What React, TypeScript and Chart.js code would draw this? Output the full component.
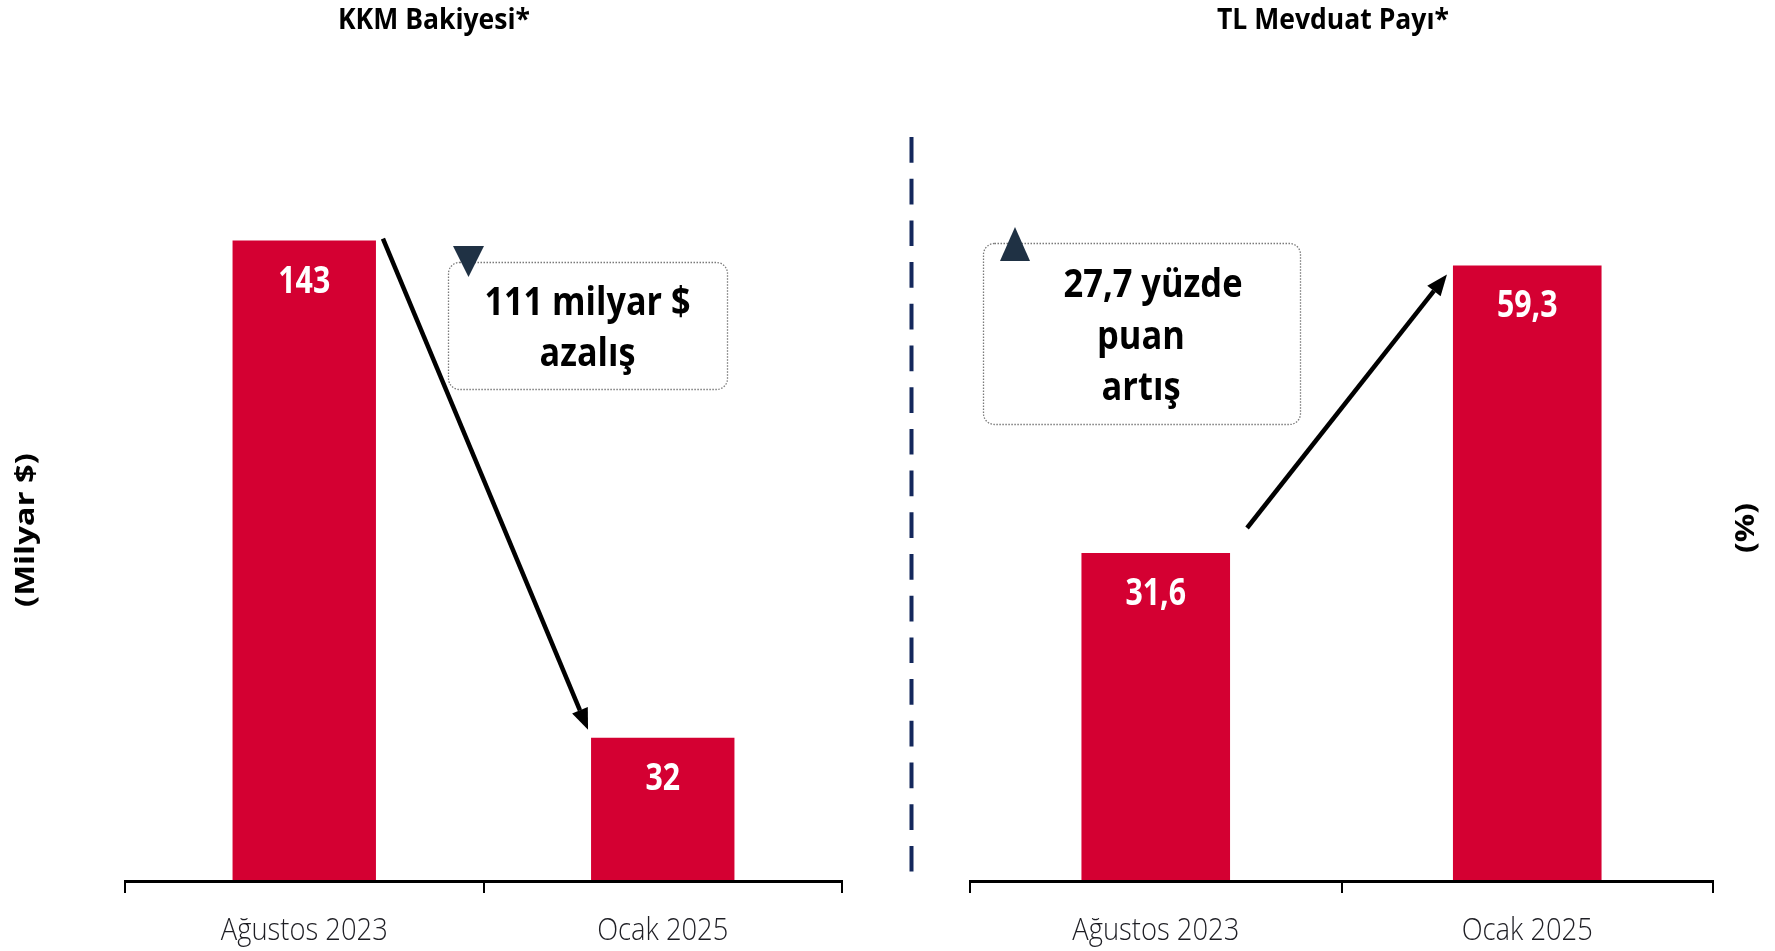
import React, { useEffect, useRef } from "react";
import { Chart, registerables } from "chart.js";

Chart.register(...registerables);

// ---- data ----
const categories = ["Ağustos 2023", "Ocak 2025"];
const kkmValues = [143, 32];
const kkmValueLabels = ["143", "32"];
const tlShareValues = [31.6, 59.3];
const tlShareValueLabels = ["31,6", "59,3"];
const leftTitle = "KKM Bakiyesi*";
const rightTitle = "TL Mevduat Payı*";
const leftAxisTitle = "(Milyar $)";
const rightAxisTitle = "(%)";
const leftNote = ["111 milyar $", "azalış"];
const rightNote = ["27,7 yüzde", "puan", "artış"];

const FAMILY = "'Open Sans', 'Noto Sans', 'DejaVu Sans', sans-serif";
const BAR_RED = "#D40032";
const NAVY = "#1f3144";

function measure(ctx: CanvasRenderingContext2D, font: string, text: string) {
  ctx.save();
  ctx.font = font;
  const w = ctx.measureText(text).width;
  ctx.restore();
  return w;
}

function drawText(
  ctx: CanvasRenderingContext2D,
  text: string,
  x: number,
  y: number,
  font: string,
  color: string,
  sx: number,
  rotate = 0
) {
  ctx.save();
  ctx.font = font;
  ctx.fillStyle = color;
  ctx.textAlign = "center";
  ctx.textBaseline = "alphabetic";
  ctx.translate(x, y);
  if (rotate) ctx.rotate(rotate);
  ctx.scale(sx, 1);
  ctx.fillText(text, 0, 0);
  ctx.restore();
}

function drawArrow(ctx: CanvasRenderingContext2D, x1: number, y1: number, x2: number, y2: number) {
  const ang = Math.atan2(y2 - y1, x2 - x1);
  const hl = 21;
  const hw = 8.5;
  const bx = x2 - hl * Math.cos(ang);
  const by = y2 - hl * Math.sin(ang);
  ctx.save();
  ctx.strokeStyle = "#000";
  ctx.lineWidth = 4.5;
  ctx.beginPath();
  ctx.moveTo(x1, y1);
  ctx.lineTo(bx, by);
  ctx.stroke();
  ctx.fillStyle = "#000";
  ctx.beginPath();
  ctx.moveTo(x2, y2);
  ctx.lineTo(bx + hw * Math.sin(ang), by - hw * Math.cos(ang));
  ctx.lineTo(bx - hw * Math.sin(ang), by + hw * Math.cos(ang));
  ctx.closePath();
  ctx.fill();
  ctx.restore();
}

function dottedBox(ctx: CanvasRenderingContext2D, x1: number, y1: number, x2: number, y2: number) {
  ctx.save();
  ctx.strokeStyle = "#7a7a7a";
  ctx.lineWidth = 1.3;
  ctx.setLineDash([1.5, 1.5]);
  ctx.beginPath();
  (ctx as any).roundRect(x1 + 0.5, y1 + 0.5, x2 - x1, y2 - y1, 11);
  ctx.stroke();
  ctx.restore();
}

function triangle(ctx: CanvasRenderingContext2D, cx: number, yBase: number, yTip: number, halfW: number) {
  ctx.save();
  ctx.fillStyle = NAVY;
  ctx.beginPath();
  ctx.moveTo(cx - halfW, yBase);
  ctx.lineTo(cx + halfW, yBase);
  ctx.lineTo(cx, yTip);
  ctx.closePath();
  ctx.fill();
  ctx.restore();
}

const titleFont = `bold 28px ${FAMILY}`;
const catFont = `300 31px ${FAMILY}`;
const valFont = `bold 38px ${FAMILY}`;
const noteFont = `bold 40px ${FAMILY}`;
const axisTitleFont = `bold 27px ${FAMILY}`;

function commonDraw(chart: any, ctx: CanvasRenderingContext2D, labels: string[]) {
  const xScale = chart.scales.x;
  const sCat = 167 / measure(ctx, catFont, "Ağustos 2023");
  categories.forEach((c, i) => {
    drawText(ctx, c, xScale.getPixelForValue(i), 940, catFont, "#1e1e24", sCat);
  });
  const meta = chart.getDatasetMeta(0);
  const sVal = 52 / measure(ctx, valFont, "143");
  meta.data.forEach((bar: any, i: number) => {
    drawText(ctx, labels[i], bar.x, bar.y + 52, valFont, "#ffffff", sVal);
  });
}

const leftPlugin = {
  id: "leftDecor",
  afterDatasetsDraw(chart: any) {
    const ctx: CanvasRenderingContext2D = chart.ctx;
    commonDraw(chart, ctx, kkmValueLabels);
    drawText(ctx, leftTitle, 434, 29, titleFont, "#000", 192 / measure(ctx, titleFont, leftTitle));
    drawText(ctx, leftAxisTitle, 34, 530, axisTitleFont, "#000", 154 / measure(ctx, axisTitleFont, leftAxisTitle), -Math.PI / 2);
    const meta = chart.getDatasetMeta(0);
    const b1 = meta.data[0];
    const b2 = meta.data[1];
    drawArrow(ctx, b1.x + b1.width / 2 + 7, b1.y - 2, b2.x - b2.width / 2 - 3, b2.y - 8);
    dottedBox(ctx, 448, 262, 727, 389);
    triangle(ctx, 468.5, 246, 277, 15.5);
    const sNote = 206 / measure(ctx, noteFont, leftNote[0]);
    drawText(ctx, leftNote[0], 587.5, 315, noteFont, "#000", sNote);
    drawText(ctx, leftNote[1], 587.5, 366, noteFont, "#000", sNote);
  },
};

const OFF = 900;
const rightPlugin = {
  id: "rightDecor",
  afterDatasetsDraw(chart: any) {
    const ctx: CanvasRenderingContext2D = chart.ctx;
    commonDraw(chart, ctx, tlShareValueLabels);
    drawText(ctx, rightTitle, 1333 - OFF, 29, titleFont, "#000", 232 / measure(ctx, titleFont, rightTitle));
    drawText(ctx, rightAxisTitle, 1754 - OFF, 528, axisTitleFont, "#000", 50 / measure(ctx, axisTitleFont, rightAxisTitle), -Math.PI / 2);
    ctx.save();
    ctx.strokeStyle = "#14285c";
    ctx.lineWidth = 4;
    ctx.setLineDash([25.7, 16]);
    ctx.beginPath();
    ctx.moveTo(911.5 - OFF, 137);
    ctx.lineTo(911.5 - OFF, 872);
    ctx.stroke();
    ctx.restore();
    const meta = chart.getDatasetMeta(0);
    const b1 = meta.data[0];
    const b2 = meta.data[1];
    drawArrow(ctx, b1.x + b1.width / 2 + 17, b1.y - 25, b2.x - b2.width / 2 - 6, b2.y + 9);
    dottedBox(ctx, 983 - OFF, 243, 1300 - OFF, 424);
    triangle(ctx, 1015 - OFF, 261, 227, 15);
    const sNote = 179 / measure(ctx, noteFont, rightNote[0]);
    drawText(ctx, rightNote[0], 1153 - OFF, 297, noteFont, "#000", sNote);
    drawText(ctx, rightNote[1], 1141 - OFF, 348.5, noteFont, "#000", sNote);
    drawText(ctx, rightNote[2], 1141 - OFF, 400, noteFont, "#000", sNote);
  },
};

function makeConfig(values: number[], max: number, padding: any, plugin: any): any {
  return {
    type: "bar",
    data: {
      labels: categories,
      datasets: [
        {
          data: values,
          backgroundColor: BAR_RED,
          borderWidth: 0,
          barPercentage: 0.4,
          categoryPercentage: 1.0,
        },
      ],
    },
    options: {
      responsive: false,
      animation: false,
      events: [],
      layout: { padding },
      plugins: { legend: { display: false }, tooltip: { enabled: false }, title: { display: false } },
      scales: {
        x: {
          type: "category",
          offset: true,
          grid: {
            display: true,
            offset: true,
            drawOnChartArea: false,
            drawTicks: true,
            tickLength: 12,
            color: "#000",
            lineWidth: 2,
          },
          border: { display: true, color: "#000", width: 3, z: 1 },
          ticks: { display: false },
        },
        y: { display: false, min: 0, max },
      },
    },
    plugins: [plugin],
  };
}

export default function App() {
  const leftRef = useRef<HTMLCanvasElement>(null);
  const rightRef = useRef<HTMLCanvasElement>(null);
  useEffect(() => {
    const c1 = new Chart(
      leftRef.current!,
      makeConfig(kkmValues, 160, { left: 125, right: 58, top: 164.4, bottom: 58 }, leftPlugin)
    );
    const c2 = new Chart(
      rightRef.current!,
      makeConfig(tlShareValues, 70, { left: 70, right: 62, top: 154.4, bottom: 58 }, rightPlugin)
    );
    return () => {
      c1.destroy();
      c2.destroy();
    };
  }, []);
  return (
    <div style={{ position: "absolute", left: 0, top: 0, width: 1775, height: 951, background: "#fff", overflow: "hidden" }}>
      <canvas ref={leftRef} width={900} height={951} style={{ position: "absolute", left: 0, top: 0 }} />
      <canvas ref={rightRef} width={875} height={951} style={{ position: "absolute", left: 900, top: 0 }} />
    </div>
  );
}
